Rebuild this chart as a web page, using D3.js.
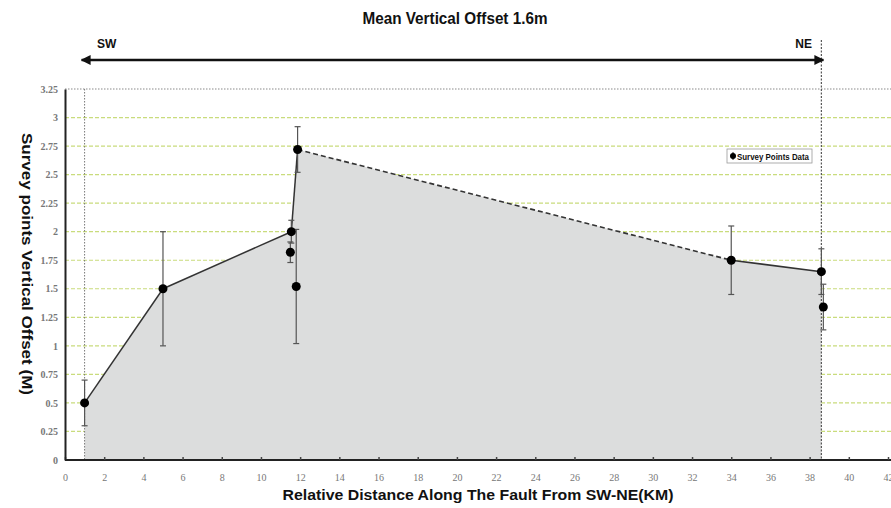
<!DOCTYPE html>
<html>
<head>
<meta charset="utf-8">
<script src="https://cdn.jsdelivr.net/npm/d3@7"></script>
<style>
  html, body { margin: 0; padding: 0; background: #fff; }
  svg { display: block; }
</style>
</head>
<body>
<svg id="chart" width="891" height="508"></svg>
<script>
// Survey points along the fault (km from SW end), measured vertical offset (m) and error (m)
const distanceKm = [1, 5, 11.55, 11.5, 11.8, 11.87, 34, 38.6, 38.7];
const offsetM    = [0.5, 1.5, 2.0, 1.82, 1.52, 2.72, 1.75, 1.65, 1.34];
const errorM     = [0.2, 0.5, 0.1, 0.09, 0.5, 0.2, 0.3, 0.2, 0.2];
// Points joined by the offset profile, in order along strike
const profileIdx = [0, 1, 2, 5, 6, 7];
// Profile segment drawn dashed (between profile positions 3 and 4)
const dashedSegment = [3, 4];
const xTicks = d3.range(0, 43, 2);
const yTicks = [0, 0.25, 0.5, 0.75, 1, 1.25, 1.5, 1.75, 2, 2.25, 2.5, 2.75, 3, 3.25];
const titleText = "Mean Vertical Offset 1.6m";
const xLabel = "Relative Distance Along The Fault From SW-NE(KM)";
const yLabel = "Survey points Vertical Offset (M)";
const legendLabel = "Survey Points Data";

const svg = d3.select("#chart");
const x = d3.scaleLinear().domain([0, 42]).range([65, 888]);
const y = d3.scaleLinear().domain([0, 3.25]).range([460, 89]);

// horizontal grid
svg.append("g").selectAll("line")
  .data(yTicks.filter(v => v > 0 && v < 3.25))
  .join("line")
  .attr("x1", x(0)).attr("x2", 891)
  .attr("y1", d => y(d)).attr("y2", d => y(d))
  .attr("stroke", "#c9dc7c").attr("stroke-width", 1.2)
  .attr("stroke-dasharray", "4,2");
svg.append("line")
  .attr("x1", x(0)).attr("x2", 891)
  .attr("y1", y(3.25)).attr("y2", y(3.25))
  .attr("stroke", "#8a8a8a").attr("stroke-width", 1.2)
  .attr("stroke-dasharray", "1.5,1.5");

// shaded area under profile
const prof = profileIdx.map(i => [distanceKm[i], offsetM[i]]);
const area = d3.area().x(d => x(d[0])).y0(y(0)).y1(d => y(d[1]));
svg.append("path").datum(prof)
  .attr("d", area)
  .attr("fill", "#dcdddd");

// fault end markers (vertical dotted lines)
const swKm = distanceKm[profileIdx[0]];
const neKm = distanceKm[profileIdx[profileIdx.length - 1]];
svg.append("line")
  .attr("x1", x(swKm)).attr("x2", x(swKm))
  .attr("y1", y(3.25)).attr("y2", y(0))
  .attr("stroke", "#777").attr("stroke-width", 1)
  .attr("stroke-dasharray", "1.5,1.5");
svg.append("line")
  .attr("x1", x(neKm)).attr("x2", x(neKm))
  .attr("y1", 40).attr("y2", y(0))
  .attr("stroke", "#555").attr("stroke-width", 1.2)
  .attr("stroke-dasharray", "2,1.5");

// profile line
const line = d3.line().x(d => x(d[0])).y(d => y(d[1]));
for (let s = 0; s < prof.length - 1; s++) {
  const dashed = s === dashedSegment[0];
  svg.append("path").datum([prof[s], prof[s + 1]])
    .attr("d", line)
    .attr("fill", "none")
    .attr("stroke", "#333")
    .attr("stroke-width", dashed ? 1.6 : 1.5)
    .attr("stroke-dasharray", dashed ? "5,3" : null);
}

// axes
const xAxis = d3.axisBottom(x).tickValues(xTicks).tickSize(-3).tickPadding(10)
  .tickFormat(d3.format("d"));
const gx = svg.append("g").attr("transform", `translate(0,${y(0)})`).call(xAxis);
gx.select(".domain").attr("stroke", "#222").attr("stroke-width", 2)
  .attr("d", `M${x(0)},0H891`);
gx.selectAll(".tick line").attr("stroke", "#444").attr("stroke-width", 1.5);
gx.selectAll(".tick text")
  .attr("font-family", "Liberation Serif, serif").attr("font-size", 10)
  .attr("fill", "#777").attr("dy", "1.1em");

const yAxis = d3.axisLeft(y).tickValues(yTicks).tickSize(0).tickPadding(7)
  .tickFormat(d => String(d));
const gy = svg.append("g").attr("transform", `translate(${x(0)},0)`).call(yAxis);
gy.select(".domain").attr("stroke", "#222").attr("stroke-width", 2);
gy.selectAll(".tick text")
  .attr("font-family", "Liberation Serif, serif").attr("font-size", 10)
  .attr("font-weight", "bold").attr("fill", "#777");

// error bars
const eb = svg.append("g");
distanceKm.forEach((d, i) => {
  const cx = x(d), top = y(offsetM[i] + errorM[i]), bot = y(offsetM[i] - errorM[i]);
  eb.append("line").attr("x1", cx).attr("x2", cx).attr("y1", top).attr("y2", bot)
    .attr("stroke", "#555").attr("stroke-width", 1.2);
  [top, bot].forEach(v => eb.append("line")
    .attr("x1", cx - 3).attr("x2", cx + 3).attr("y1", v).attr("y2", v)
    .attr("stroke", "#555").attr("stroke-width", 1.2));
});

// survey points
svg.append("g").selectAll("circle")
  .data(distanceKm.map((d, i) => [d, offsetM[i]]))
  .join("circle")
  .attr("cx", d => x(d[0])).attr("cy", d => y(d[1])).attr("r", 4.5)
  .attr("fill", "#000");

// legend
const lg = svg.append("g").attr("transform", "translate(727,149)");
lg.append("rect").attr("width", 85).attr("height", 14)
  .attr("fill", "#fff").attr("stroke", "#999").attr("stroke-width", 0.8);
lg.append("line").attr("x1", 6).attr("x2", 6).attr("y1", 3).attr("y2", 11)
  .attr("stroke", "#222").attr("stroke-width", 1);
lg.append("circle").attr("cx", 6).attr("cy", 7).attr("r", 3).attr("fill", "#000");
lg.append("text").attr("x", 10).attr("y", 10.5)
  .attr("font-family", "Liberation Sans Narrow, Arial Narrow, sans-serif")
  .attr("font-size", 9).attr("font-weight", "bold").attr("fill", "#111")
  .attr("textLength", 72).attr("lengthAdjust", "spacingAndGlyphs")
  .text(legendLabel);

// SW-NE arrow
const defs = svg.append("defs");
["start", "end"].forEach(k => {
  defs.append("marker").attr("id", "ah-" + k)
    .attr("viewBox", "0 0 10 10").attr("refX", 9).attr("refY", 5)
    .attr("markerWidth", 4).attr("markerHeight", 4)
    .attr("orient", k === "start" ? "auto-start-reverse" : "auto")
    .append("path").attr("d", "M0,0L10,5L0,10z").attr("fill", "#111");
});
svg.append("line")
  .attr("x1", x(swKm) - 3).attr("x2", x(neKm) + 2)
  .attr("y1", 60).attr("y2", 60)
  .attr("stroke", "#111").attr("stroke-width", 2.5)
  .attr("marker-start", "url(#ah-start)").attr("marker-end", "url(#ah-end)");

const bold = "Liberation Sans, Arial, sans-serif";
svg.append("text").attr("x", 97).attr("y", 48)
  .attr("font-family", bold).attr("font-weight", "bold").attr("font-size", 12)
  .attr("fill", "#111").text("SW");
svg.append("text").attr("x", 812).attr("y", 48).attr("text-anchor", "end")
  .attr("font-family", bold).attr("font-weight", "bold").attr("font-size", 12)
  .attr("fill", "#111").text("NE");

// title and axis labels
svg.append("text").attr("x", 455).attr("y", 24).attr("text-anchor", "middle")
  .attr("font-family", "Liberation Sans Narrow, Arial Narrow, sans-serif")
  .attr("font-weight", "bold").attr("font-size", 16).attr("fill", "#111")
  .attr("textLength", 185).attr("lengthAdjust", "spacingAndGlyphs")
  .text(titleText);
svg.append("text").attr("x", 478).attr("y", 500).attr("text-anchor", "middle")
  .attr("font-family", bold).attr("font-weight", "bold").attr("font-size", 14)
  .attr("fill", "#111")
  .attr("textLength", 391).attr("lengthAdjust", "spacingAndGlyphs")
  .text(xLabel);
svg.append("text")
  .attr("transform", "translate(22,264) rotate(90)")
  .attr("text-anchor", "middle")
  .attr("font-family", bold).attr("font-weight", "bold").attr("font-size", 15)
  .attr("fill", "#111")
  .attr("textLength", 262).attr("lengthAdjust", "spacingAndGlyphs")
  .text(yLabel);
</script>
</body>
</html>
